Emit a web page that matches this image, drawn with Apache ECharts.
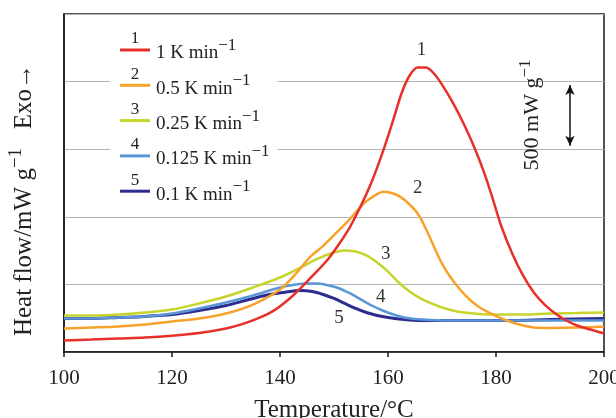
<!DOCTYPE html>
<html>
<head>
<meta charset="utf-8">
<script src="https://cdn.jsdelivr.net/npm/echarts@6/dist/echarts.min.js"></script>
<style>
  html, body { margin: 0; padding: 0; background: #fff; }
  #chart { width: 616px; height: 418px; }
</style>
</head>
<body>
<div id="chart"></div>
<script>
// DSC heat flow curves (mW/g) against temperature (°C) for five heating rates
const rateNames = ['1 K min', '0.5 K min', '0.25 K min', '0.125 K min', '0.1 K min'];
const curveNumbers = ['1', '2', '3', '4', '5'];
const colors = ['#e8302a', '#f8a22c', '#c6d42c', '#5b97d6', '#2c2c8e'];

const temp1 = [100, 105, 110, 115, 120, 125, 130, 133, 136, 139, 142, 145, 147, 149, 151, 153, 155, 157, 159, 161, 162.5, 164, 165.5, 167, 168.5, 170, 172, 174, 176, 178, 179.5, 181, 183, 185, 187, 189, 191, 193, 195, 197.5, 200];
const flow1 = [85, 92, 100, 107, 120, 140, 174, 206, 250, 310, 403, 521, 603, 692, 802, 928, 1083, 1261, 1476, 1720, 1912, 2045, 2104, 2104, 2060, 1978, 1845, 1690, 1512, 1305, 1120, 928, 729, 566, 440, 351, 285, 233, 196, 166, 137];

const temp2 = [100, 105, 110, 115, 120, 125, 130, 135, 140, 143, 145.5, 148, 150.5, 153, 155.5, 157.5, 159.2, 161, 162.5, 164, 165.5, 167, 168.5, 170, 171.6, 173.5, 175.3, 177, 179, 181, 183, 185, 187, 190, 195, 200];
const flow2 = [174, 181, 189, 203, 226, 248, 285, 351, 462, 581, 700, 785, 884, 987, 1098, 1157, 1186, 1172, 1142, 1091, 1024, 913, 780, 654, 551, 455, 381, 329, 285, 248, 218, 196, 181, 178, 181, 189];

const temp3 = [100, 105, 110, 115, 120, 125, 130, 135, 140, 143.8, 147, 150, 152, 154, 156, 158, 160, 162, 164, 166, 168, 170, 172, 174, 177, 180, 185, 190, 195, 200];
const flow3 = [270, 270, 277, 292, 314, 359, 410, 477, 551, 625, 691, 736, 751, 743, 714, 662, 595, 514, 447, 396, 359, 329, 307, 292, 281, 277, 277, 285, 288, 292];

const temp4 = [100, 105, 110, 115, 120, 125, 130, 135, 140, 143, 145, 147, 149, 151, 153, 155, 157, 159, 161, 163, 165, 168, 172, 180, 190, 200];
const flow4 = [248, 248, 255, 263, 285, 322, 366, 418, 477, 499, 507, 507, 492, 470, 433, 388, 344, 307, 277, 255, 244, 237, 233, 233, 233, 233];

const temp5 = [100, 105, 110, 115, 120, 125, 130, 135, 138, 140.6, 143.8, 146, 148, 150, 152, 154, 156, 158, 160, 163, 166, 170, 180, 190, 200];
const flow5 = [248, 248, 255, 263, 277, 307, 344, 396, 425, 440, 455, 447, 425, 396, 359, 322, 292, 270, 255, 240, 233, 233, 233, 240, 248];

// where each curve number sits: a point on the curve and a pixel offset
const curveLabelAt = [[166, 2104], [159.2, 1186], [152, 751], [157, 344], [150, 396]];
const curveLabelOffset = [[1, -18], [34, -4], [41, 4], [9, -8], [5, 20]];

// vertical scale bar: 500 mW/g
const scaleBarT = 193.7;
const scaleBar = [1525, 1975];

const xTicks = { min: 100, max: 200, step: 20 };
const yRange = { min: 0, max: 2500, step: 500 };

const serif = '"Liberation Serif", "Times New Roman", "DejaVu Serif", serif';
const ink = '#222';

const temps = [temp1, temp2, temp3, temp4, temp5];
const flows = [flow1, flow2, flow3, flow4, flow5];

const series = rateNames.map((name, i) => {
  const s = {
    name: name,
    type: 'line',
    showSymbol: false,
    smooth: 0.3,
    z: 10 - i,
    color: colors[i],
    lineStyle: { width: i === 4 ? 3 : 2.5, color: colors[i] },
    data: temps[i].map((t, k) => [t, flows[i][k]]),
    markPoint: {
      silent: true,
      symbol: 'circle',
      symbolSize: 0,
      itemStyle: { color: 'transparent' },
      label: {
        show: true,
        position: 'inside',
        formatter: curveNumbers[i],
        offset: curveLabelOffset[i],
        fontFamily: serif,
        fontSize: 19,
        color: '#333'
      },
      data: [{ coord: curveLabelAt[i] }]
    }
  };
  if (i === 0) {
    s.markLine = {
      silent: true,
      symbol: ['arrow', 'arrow'],
      symbolSize: [7, 10],
      lineStyle: { color: '#111', width: 1.5, type: 'solid' },
      label: { show: false },
      emphasis: { disabled: true },
      data: [[{ coord: [scaleBarT, scaleBar[0]] }, { coord: [scaleBarT, scaleBar[1]] }]]
    };
  }
  return s;
});

// legend layout: each row is 26 px tall, rows 35.3 px apart
const legendLeft = 110;
const legendPadLeft = 10;
const legendPadTop = 10;
const legendTop = 27;
const legendRowH = 26;
const legendGap = 9.3;

const chart = echarts.init(document.getElementById('chart'), null, { renderer: 'canvas' });
chart.setOption({
  animation: false,
  backgroundColor: '#fff',
  grid: {
    left: 64, right: 12, top: 14, bottom: 66,
    outerBoundsMode: 'none',
    containLabel: false,
    show: true, borderColor: '#1a1a1a', borderWidth: 1.5
  },
  xAxis: {
    type: 'value',
    min: xTicks.min, max: xTicks.max, interval: xTicks.step,
    axisLine: { show: true, lineStyle: { color: '#1a1a1a', width: 1.5 } },
    axisTick: { show: true, inside: false, length: 5, lineStyle: { color: '#1a1a1a', width: 1.5 } },
    axisLabel: { fontFamily: serif, fontSize: 21, color: ink, margin: 16 },
    splitLine: { show: false },
    name: 'Temperature/°C',
    nameLocation: 'middle',
    nameGap: 46,
    nameTextStyle: { fontFamily: serif, fontSize: 25, color: ink }
  },
  yAxis: {
    type: 'value',
    min: yRange.min, max: yRange.max, interval: yRange.step,
    axisLine: { show: true, lineStyle: { color: '#1a1a1a', width: 1.5 } },
    axisTick: { show: false },
    axisLabel: { show: false },
    splitLine: { show: true, lineStyle: { color: '#b5b5b5', width: 1.2 } },
    name: '{m|Heat flow/mW g}{s|−1}{m|   Exo→}',
    nameLocation: 'middle',
    nameRotate: 90,
    nameGap: 27,
    nameTextStyle: {
      padding: [0, 34, 0, 0],
      rich: {
        m: { fontFamily: serif, fontSize: 25, color: ink, lineHeight: 30, verticalAlign: 'bottom' },
        s: { fontFamily: serif, fontSize: 19, color: ink, lineHeight: 16, verticalAlign: 'top' }
      }
    }
  },
  legend: {
    orient: 'vertical',
    left: legendLeft,
    top: legendTop,
    padding: [legendPadTop, 8, 6, legendPadLeft],
    backgroundColor: '#fff',
    itemWidth: 30,
    itemHeight: 3,
    itemGap: legendGap,
    icon: 'rect',
    selectedMode: false,
    data: rateNames,
    formatter: n => `{t|${n}}{s|−1}`,
    textStyle: {
      padding: [0, 0, 0, 1],
      rich: {
        t: { fontFamily: serif, fontSize: 19, color: ink, lineHeight: legendRowH, verticalAlign: 'bottom' },
        s: { fontFamily: serif, fontSize: 17, color: ink, lineHeight: 14, verticalAlign: 'top' }
      }
    }
  },
  graphic: [
    ...curveNumbers.map((n, i) => ({
      type: 'text',
      z: 100,
      x: legendLeft + legendPadLeft + 15,
      y: legendTop + legendPadTop + legendRowH / 2 - 11 + i * (legendRowH + legendGap),
      style: {
        text: n, fontFamily: serif, fontSize: 17, fill: ink,
        align: 'center', verticalAlign: 'middle'
      }
    })),
    {
      type: 'text',
      z: 100,
      x: 530,
      y: 115,
      rotation: Math.PI / 2,
      style: {
        text: '{m|500 mW g}{s|−1}',
        align: 'center',
        verticalAlign: 'middle',
        rich: {
          m: { fontFamily: serif, fontSize: 22, fill: ink, lineHeight: 26, verticalAlign: 'bottom' },
          s: { fontFamily: serif, fontSize: 17, fill: ink, lineHeight: 14, verticalAlign: 'top' }
        }
      }
    }
  ],
  series: series
});
</script>
</body>
</html>
